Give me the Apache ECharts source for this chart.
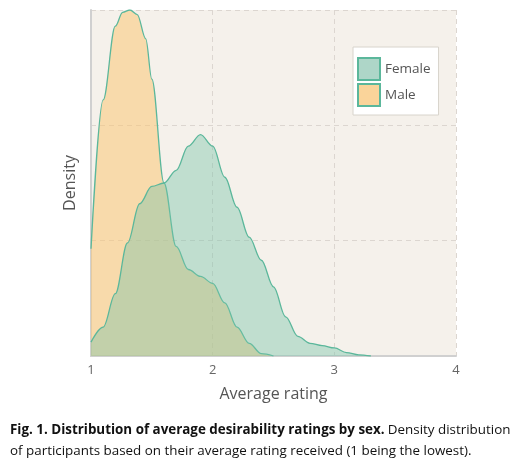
<!DOCTYPE html>
<html><head><meta charset="utf-8">
<script src="https://cdn.jsdelivr.net/npm/echarts@6/dist/echarts.min.js"></script>
<style>html,body{margin:0;padding:0;background:#fff}#c{width:521px;height:469px}</style>
</head><body><div id="c"></div>
<script>
const xTicks = [1, 2, 3, 4];
const maleX = [1.0,1.1,1.2,1.26,1.32,1.38,1.45,1.5,1.6,1.7,1.8,1.9,2.0,2.1,2.2,2.3,2.4,2.5];
const maleY = [0.93,2.22,2.86,2.98,3.0,2.96,2.75,2.40,1.50,0.95,0.75,0.69,0.63,0.46,0.25,0.11,0.02,0];
const femaleX = [1.0,1.1,1.2,1.3,1.4,1.5,1.6,1.7,1.8,1.9,2.0,2.1,2.2,2.3,2.4,2.5,2.6,2.7,2.8,2.9,3.0,3.1,3.2,3.3];
const femaleY = [0.12,0.25,0.54,0.98,1.32,1.47,1.50,1.61,1.82,1.92,1.82,1.55,1.29,1.03,0.83,0.60,0.34,0.17,0.11,0.09,0.07,0.03,0.01,0];
const pair = (xs, ys) => xs.map((x, i) => [x, ys[i]]);
const chart = echarts.init(document.getElementById('c'));
const dash = {show:true, lineStyle:{color:'#dcd6d0', type:[5,4], width:1}};
chart.setOption({
  animation:false,
  grid:{left:91, top:10, width:365, height:346, show:true, backgroundColor:'#f5f1eb', borderWidth:0},
  xAxis:{type:'value', min:1, max:4, interval:1, name:'Average rating', nameLocation:'middle', nameGap:30,
    nameTextStyle:{color:'#555', fontSize:16, fontFamily:'Open Sans'},
    axisLine:{lineStyle:{color:'#d0d0d0', width:2}}, axisTick:{show:false},
    axisLabel:{color:'#666', fontSize:13, fontFamily:'Open Sans', margin:8}, splitLine:dash},
  yAxis:{type:'value', min:0, max:3, interval:1, name:'Density', nameLocation:'middle', nameGap:13,
    nameTextStyle:{color:'#555', fontSize:16, fontFamily:'Open Sans'},
    axisLine:{show:true, lineStyle:{color:'#d0d0d0', width:2}}, axisTick:{show:false},
    axisLabel:{show:false}, splitLine:dash},
  legend:{orient:'vertical', left:353, top:47, width:86, backgroundColor:'#fff', borderColor:'#d8d4cc', borderWidth:1,
    padding:[10,8,8,4], itemGap:2, itemWidth:22, itemHeight:22, icon:'rect',
    textStyle:{color:'#555', fontSize:13.5, fontFamily:'Open Sans'},
    data:[{name:'Female', itemStyle:{color:'#aed6c8', borderColor:'#5bb79b', borderWidth:2}},
          {name:'Male', itemStyle:{color:'#fad49a', borderColor:'#5bb79b', borderWidth:2}}]},
  series:[
    {name:'Female', type:'line', smooth:0.35, smoothMonotone:'x', symbol:'none', data:pair(femaleX, femaleY),
      lineStyle:{color:'#5bb79b', width:1.3}, itemStyle:{color:'#aed6c8'}, areaStyle:{color:'rgba(120,195,170,0.6)'}},
    {name:'Male', type:'line', smooth:0.35, smoothMonotone:'x', symbol:'none', data:pair(maleX, maleY),
      lineStyle:{color:'#5bb79b', width:1.3}, itemStyle:{color:'#fad49a'}, areaStyle:{color:'rgba(252,198,115,0.75)'}, z:1}
  ],
  graphic:[{type:'text', left:10, top:424, style:{
    text:'{b|Fig. 1. Distribution of average desirability ratings by sex.} {n|Density distribution}\n{n|of participants based on their average rating received (1 being the lowest).}',
    rich:{b:{fontWeight:'bold', fontSize:13.4, fontFamily:'Open Sans', fill:'#111', lineHeight:21},
          n:{fontSize:13.4, fontFamily:'Open Sans', fill:'#111', lineHeight:21}}}}]
});
</script></body></html>
